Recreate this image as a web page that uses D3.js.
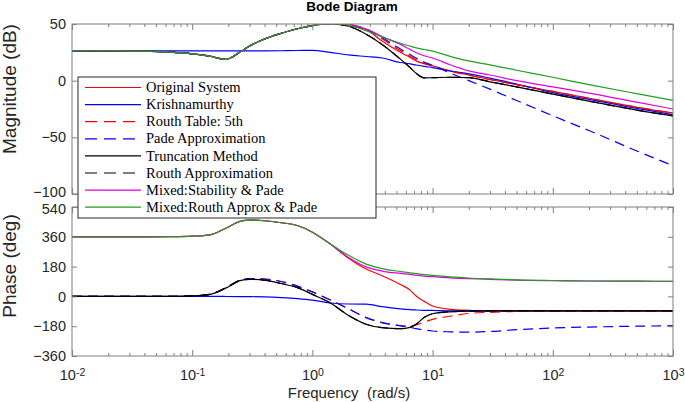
<!DOCTYPE html>
<html><head><meta charset="utf-8">
<script src="https://cdn.jsdelivr.net/npm/d3@7"></script>
<style>
body{margin:0;background:#fff}
svg text{font-family:"Liberation Sans",Arial,Helvetica,sans-serif}
svg text.legtxt{font-family:"Liberation Serif","Times New Roman",Times,serif}
</style>
</head><body>
<svg id="c" width="685" height="402"></svg>
<script>
// ---------------- data ----------------
const freq = [0.01,0.02,0.04,0.07,0.1,0.14,0.19,0.25,0.3,0.4,0.55,0.75,1,1.4,2,2.8,3.8,5.4,6.5,7.3,8.5,10,14,20,30,50,100,200,500,1000];

const legendLabels = ["Original System","Krishnamurthy","Routh Table: 5th","Pade Approximation","Truncation Method","Routh Approximation","Mixed:Stability & Pade","Mixed:Routh Approx & Pade"];

const magOriginal   = [26.3,26.3,26.1,25.0,23.7,21.7,18.8,25.3,30.5,36.8,41.8,45.8,48.6,50.3,48.5,45,35,25,20.5,17.5,15,13,8.6,5,1,-3.5,-9.5,-15.5,-23.5,-28.5];
const magKrish      = [26.3,26.3,26.3,26.3,26.3,26.3,26.3,26.3,26.3,26.3,26.4,26.6,26.8,25,22.7,21.3,20,16,14.8,13.8,12.6,11.5,8.5,6,2.2,-3,-10.5,-16.5,-24.5,-30];
const magRouthTable = [26.3,26.3,26.1,25.0,23.7,21.7,18.8,25.3,30.5,36.8,41.8,45.8,48.6,50.3,48.8,45.5,37,26.5,21.5,18.5,15.5,13,8.4,4.8,1,-3.5,-9.5,-15.5,-23.5,-28.5];
const magPade       = [26.3,26.3,26.1,25.0,23.7,21.7,18.8,25.3,30.5,36.8,41.8,45.8,48.6,50.3,49,45.5,38,28,23,20,16.5,13.5,6.8,0,-7.5,-17.5,-31,-44,-62,-75];
const magTrunc      = [26.3,26.3,26.1,25.0,23.7,21.7,18.8,25.3,30.5,36.8,41.8,45.8,48.6,50.3,48,41,32,19,11.5,6.5,2.5,2.6,3,2.6,-1,-5.5,-11.8,-18,-26,-31];
const magRouthApprox= [26.3,26.3,26.1,25.0,23.7,21.7,18.8,25.3,30.5,36.8,41.8,45.8,48.6,50.3,48,41,32,19,11.5,6.5,2.5,2.6,3,2.6,-1,-5.5,-11.8,-18,-26,-31];
const magMixStab    = [26.3,26.3,26.1,25.0,23.7,21.7,18.8,25.3,30.5,36.8,41.8,45.8,48.6,50.3,49.8,45.5,39,32,27.5,24.7,22,20,14,8.6,5,0,-5.5,-11,-19,-25];
const magMixRouth   = [26.3,26.3,26.1,25.0,23.7,21.7,18.8,25.3,30.5,36.8,41.8,45.8,48.6,50.3,49,44,38.5,33,30.5,29,27.5,26,21.5,17.4,14,9.2,3,-3.5,-11.5,-17.4];

const phOriginal    = [360,360,360,361,364,372,412,453,461,457,445,428,388,318,230,165,125,72,38,2,-30,-58,-78,-84,-87,-88,-88,-88,-88,-88];
const phKrish       = [0,0,0,0,0,0,-0.5,-1,-1.5,-3,-7,-13,-22,-40,-46,-47,-62,-75,-80,-82,-84,-85,-87,-88,-88,-88,-88,-88,-88,-88];
const phRouthTable  = [0,0,0,0.5,3,12,52,98,108,105,90,62,27,-20,-75,-128,-158,-176,-178,-172,-155,-139,-120,-103,-96,-91,-89,-88,-88,-88];
const phPade        = [0,0,0,0.5,3,12,52,98,108,105,90,62,27,-20,-75,-128,-158,-178,-187,-195,-203,-209,-214,-216,-212,-201,-191,-185,-180,-177];
const phTrunc       = [0,0,0,0.5,3,12,50,95,103,98,78,53,12,-38,-115,-168,-189,-195,-187,-168,-128,-105,-93,-89,-88,-88,-88,-88,-88,-88];
const phRouthApprox = [0,0,0,0.5,3,12,50,95,103,98,78,53,12,-38,-115,-168,-189,-195,-187,-168,-128,-105,-93,-89,-88,-88,-88,-88,-88,-88];
const phMixStab     = [360,360,360,361,364,372,412,453,461,457,445,428,388,318,235,178,153,139,133,128,123,119,112,107,103,98,95,93,92,91];
const phMixRouth    = [360,360,360,361,364,372,412,453,461,457,445,428,388,318,248,195,168,150,142,137,132,127,118,111,106,100,96,93,92,91];

const magTicks = [50,0,-50,-100];
const phTicks = [540,360,180,0,-180,-360];
const decadeTicks = [1e-2,1e-1,1e0,1e1,1e2,1e3];

// ---------------- styles ----------------
const styles = [
  {color:"#ff0000", dash:null},
  {color:"#0000ff", dash:null},
  {color:"#ff0000", dash:"10,6"},
  {color:"#0000ff", dash:"10,6"},
  {color:"#000000", dash:null},
  {color:"#000000", dash:"10,6"},
  {color:"#e000e0", dash:null},
  {color:"#1f9f1f", dash:null}
];
const magSeries = [magOriginal,magKrish,magRouthTable,magPade,magTrunc,magRouthApprox,magMixStab,magMixRouth];
const phSeries  = [phOriginal,phKrish,phRouthTable,phPade,phTrunc,phRouthApprox,phMixStab,phMixRouth];

// ---------------- layout ----------------
const svg = d3.select("#c");
const L = 72, R = 673;
const magTop = 24, magBot = 194, phTop = 207, phBot = 356;
const axisColor = "#7f7f7f", textColor = "#262626";

const x = d3.scaleLog().domain([1e-2,1e3]).range([L,R]);
const yM = d3.scaleLinear().domain([-100,50]).range([magBot,magTop]);
const yP = d3.scaleLinear().domain([-360,540]).range([phBot,phTop]);

const minorTicks = [];
for (let e=-2; e<3; e++) for (let k=2;k<10;k++) minorTicks.push(k*Math.pow(10,e));

function styleAxis(g){
  g.select(".domain").remove();
  g.selectAll(".tick line").attr("stroke",axisColor).attr("stroke-width",1);
  g.selectAll(".tick text").attr("fill",textColor).attr("font-size","14.5px");
}

function panel(yScale, top, bot, yTicks, showXLabels, clipId, series, labelShift){
  svg.append("clipPath").attr("id",clipId).append("rect")
    .attr("x",L).attr("y",top).attr("width",R-L).attr("height",bot-top);

  const lineGen = d3.line()
    .x((d,i)=>x(freq[i])).y(d=>yScale(d)).curve(d3.curveMonotoneX);
  const lg = svg.append("g").attr("clip-path",`url(#${clipId})`);
  series.forEach((vals,i)=>{
    lg.append("path").attr("d",lineGen(vals)).attr("fill","none")
      .attr("stroke",styles[i].color).attr("stroke-width",1.2)
      .attr("stroke-dasharray",styles[i].dash);
  });

  // box
  svg.append("rect").attr("x",L).attr("y",top).attr("width",R-L).attr("height",bot-top)
    .attr("fill","none").attr("stroke",axisColor).attr("stroke-width",1);

  // y axes
  const ly = svg.append("g").attr("transform",`translate(${L},0)`)
    .call(d3.axisLeft(yScale).tickValues(yTicks).tickSize(-5).tickPadding(6).tickFormat(d3.format("d")))
    .call(styleAxis);
  ly.selectAll(".tick text").attr("y", d => labelShift(d));
  svg.append("g").attr("transform",`translate(${R},0)`)
    .call(d3.axisRight(yScale).tickValues(yTicks).tickSize(-5).tickFormat(""))
    .call(styleAxis);

  // x axes: top and bottom, major + minor
  svg.append("g").attr("transform",`translate(0,${top})`)
    .call(d3.axisTop(x).tickValues(decadeTicks).tickSize(-6).tickFormat("")).call(styleAxis);
  svg.append("g").attr("transform",`translate(0,${top})`)
    .call(d3.axisTop(x).tickValues(minorTicks).tickSize(-3).tickFormat("")).call(styleAxis);
  svg.append("g").attr("transform",`translate(0,${bot})`)
    .call(d3.axisBottom(x).tickValues(minorTicks).tickSize(-3).tickFormat("")).call(styleAxis);
  const bx = svg.append("g").attr("transform",`translate(0,${bot})`)
    .call(d3.axisBottom(x).tickValues(decadeTicks).tickSize(-6).tickPadding(14).tickFormat(showXLabels ? (d=>"") : ""))
    .call(styleAxis);
  if (showXLabels){
    bx.selectAll(".tick text").each(function(d){
      const t = d3.select(this);
      t.text(null);
      t.append("tspan").text("10");
      t.append("tspan").attr("dy","-0.45em").attr("font-size","10.5px").text(String(Math.round(Math.log10(d))));
    });
  }
}

panel(yM, magTop, magBot, magTicks, false, "clipMag", magSeries, d => d === -100 ? -2 : 0);
panel(yP, phTop, phBot, phTicks, true, "clipPh", phSeries, d => d === 540 ? 1.5 : 0);

// titles & labels
svg.append("text").attr("x",352).attr("y",11).attr("text-anchor","middle")
  .attr("font-size","13.5px").attr("font-weight","bold").attr("fill","#000").text("Bode Diagram");
svg.append("text").attr("transform","translate(16,89) rotate(-90)").attr("text-anchor","middle")
  .attr("font-size","19px").attr("fill",textColor).text("Magnitude (dB)");
svg.append("text").attr("transform","translate(16,266) rotate(-90)").attr("text-anchor","middle")
  .attr("font-size","19px").attr("fill",textColor).text("Phase (deg)");
svg.append("text").attr("x",349).attr("y",398).attr("text-anchor","middle")
  .attr("font-size","15px").attr("fill",textColor).style("white-space","pre").text("Frequency  (rad/s)");

// legend
const leg = svg.append("g");
leg.append("rect").attr("x",78).attr("y",77).attr("width",298).attr("height",141)
  .attr("fill","#fff").attr("stroke","#262626").attr("stroke-width",1);
legendLabels.forEach((lab,i)=>{
  const yy = 87.5 + i*17.1;
  leg.append("line").attr("x1",85).attr("x2",141).attr("y1",yy).attr("y2",yy)
    .attr("stroke",styles[i].color).attr("stroke-width",1.2)
    .attr("stroke-dasharray",styles[i].dash ? "12,7" : null);
  leg.append("text").attr("class","legtxt").attr("x",146).attr("y",yy+4.6)
    .attr("font-size","14.5px").attr("fill","#000").text(lab);
});
</script>
</body></html>
